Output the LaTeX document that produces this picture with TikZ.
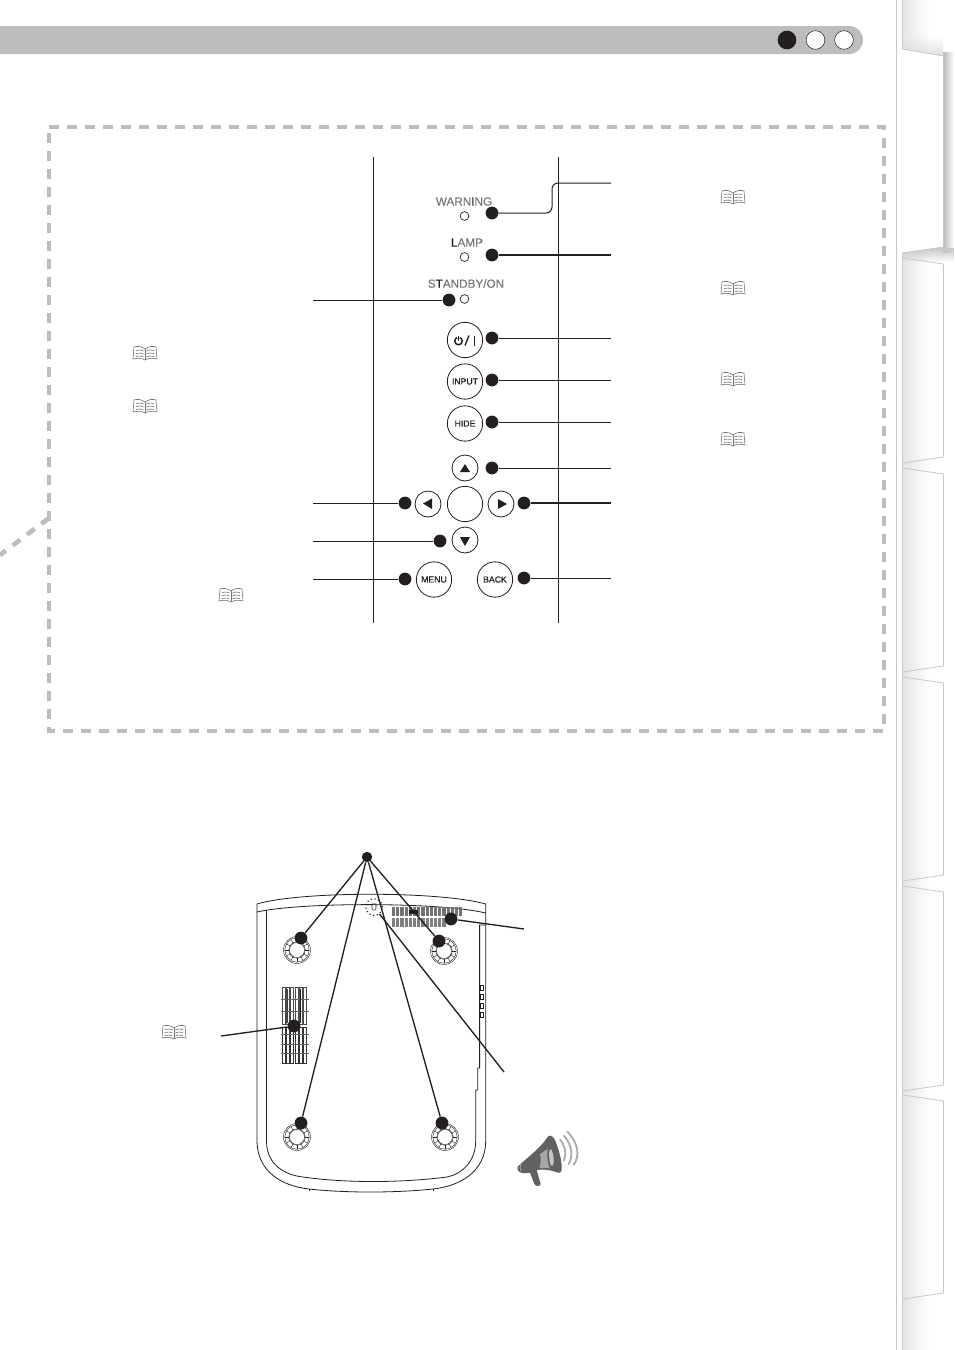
\documentclass[tikz,border=0pt]{standalone}
\usepackage{fontspec}
\usetikzlibrary{fadings}
\setmainfont{Liberation Sans}
\newfontfamily\btnfont[FakeBold=0.6]{Liberation Sans}
\newfontfamily\lblfont[FakeBold=0.3]{Liberation Sans}
\definecolor{barg}{HTML}{BDBDBD}
\definecolor{txtg}{HTML}{777777}
\definecolor{ink}{HTML}{231F20}
\definecolor{tabl}{HTML}{C8C8C8}
\tikzset{
  dot/.style={circle,fill=ink,draw=none,inner sep=0pt,minimum size=9.6pt},
  hubdot/.style={circle,fill=ink,draw=none,inner sep=0pt,minimum size=7.8pt},
  led/.style={circle,draw=ink,fill=white,line width=.5pt,inner sep=0pt,minimum size=6.6pt},
  bigbtn/.style={circle,draw=ink,fill=white,line width=.6pt,inner sep=0pt,minimum size=26.5pt,font=\btnfont\fontsize{6.5pt}{7pt}\selectfont,text=ink},
  smallbtn/.style={circle,draw=ink,fill=white,line width=.6pt,inner sep=0pt,minimum size=19.5pt},
  lbl/.style={inner sep=0pt,text=txtg,font=\lblfont\fontsize{8.8pt}{10pt}\selectfont},
  conn/.style={draw=ink,line width=.75pt},
  connb/.style={draw=ink,line width=1.2pt},
  lead/.style={draw=ink,line width=1pt},
  dbox/.style={draw=barg,line width=3.5pt,dash pattern=on 7.2pt off 6.3pt},
  tabedge/.style={draw=tabl,line width=.6pt},
  arrowfill/.style={fill=ink,draw=none},
  body/.style={draw=ink,line width=.6pt},
}
\newcommand{\bookicon}[2]{%
 \begin{scope}[shift={(#1,#2)},draw=black!55,line width=.45pt]
  \draw[fill=white] (0,-4) .. controls (-4,-7) and (-8,-7) .. (-11,-6) -- (-12,6) .. controls (-8,5) and (-3,5) .. (0,7)
        .. controls (3,5) and (8,5) .. (12,6) -- (11,-6) .. controls (8,-7) and (4,-7) .. (0,-4) -- cycle;
  \draw (0,-4) -- (0,7);
  \foreach \d in {-2,1,4}{
   \draw (-9,\d-.5) .. controls (-6,\d-1.5) and (-3,\d-1) .. (-1.5,\d);
   \draw (9,\d-.5) .. controls (6,\d-1.5) and (3,\d-1) .. (1.5,\d);}
 \end{scope}}
\newcommand{\footring}[3]{%
 \begin{scope}[shift={(#1,#2)},draw=ink,line width=.3pt]
  \draw circle (#3); \draw circle (#3-1.3); \draw circle (#3-5.3); \draw circle (#3-6);
  \foreach \a in {0,30,...,330}{\draw (\a:#3-5.3) -- (\a:#3-1.3);}
 \end{scope}}
\begin{document}
\begin{tikzpicture}[x=.75pt,y=-.75pt]
\path[fill=white,use as bounding box] (0,0) rectangle (954,1350);
% side tabs
\shade[left color=black!10,right color=white] (903,0) rectangle (930,1350);
\shade[left color=black!28,right color=white] (943,52) rectangle (954,252);
\fill[black!12,path fading=north] (903,36) rectangle (943,56);
\fill[black!22,path fading=south] (903,248) rectangle (954,262);
\draw[draw=tabl,line width=.6pt] (896.5,0) -- (896.5,1350);
\draw[draw=tabl,line width=1.2pt] (902.5,0) -- (902.5,49) (902.5,253) -- (902.5,1350);
\fill[white] (902,49) -- (943.5,56) -- (943.5,247) -- (902,253) -- cycle;
\draw[tabedge] (902,49) -- (943.5,56) -- (943.5,247) -- (902,253);
\foreach \t/\b in {258/457,468/666,677/875,886/1085,1095/1293}{
 \draw[tabedge] (903,\t) -- (943.5,\t+6) -- (943.5,\b) -- (903,\b+6);
}
% header
\fill[barg] (0,26) -- (849,26) .. controls (857,26) and (863,32) .. (863,40) .. controls (863,48) and (857,54) .. (849,54) -- (0,54) -- cycle;
\node[circle,fill=ink,inner sep=0pt,minimum size=14pt] (h1) at (787,40) {};
\node[circle,fill=white,draw=ink,line width=.4pt,inner sep=0pt,minimum size=14pt] (h2) at (815.5,40) {};
\node[circle,fill=white,draw=ink,line width=.4pt,inner sep=0pt,minimum size=14pt] (h3) at (844,40) {};
% dashed box
\draw[dbox] (49,127) -- (884,127) -- (884,731) -- (49,731) -- cycle;
\draw[dbox] (49,518) -- (0,555);
% column rules
\draw[draw=ink,line width=.75pt] (373.5,157) -- (373.5,623) (558.5,157) -- (558.5,623);
% labels + leds
\node[lbl] (tW) at (464,201.5) {WARN\textcolor{ink}{I}NG};
\node[lbl] (tL) at (467,242.5) {\textcolor{ink}{L}AMP};
\node[lbl] (tS) at (466,283.5) {S\textcolor{ink}{T}ANDBY/ON};
\node[led] (lW) at (464.5,216) {};
\node[led] (lL) at (464.5,257) {};
\node[led] (lS) at (464.5,299) {};
% buttons
\node[bigbtn] (bP) at (465,340) {};
\node[bigbtn] (bI) at (465,381.5) {INPUT};
\node[bigbtn] (bH) at (465,423.5) {HIDE};
\node[smallbtn] (bU) at (465,468) {};
\node[smallbtn] (bL) at (428,504) {};
\node[bigbtn] (bC) at (465,504) {};
\node[smallbtn] (bR) at (501,504) {};
\node[smallbtn] (bD) at (465,540) {};
\node[bigbtn] (bM) at (434,579.5) {MENU};
\node[bigbtn] (bB) at (495,579.5) {BACK};
% power glyph
\draw[draw=ink,line width=1.1pt] (458.5,341) circle (3.8);
\draw[draw=white,line width=1.8pt] (458.5,335) -- (458.5,338);
\draw[draw=ink,line width=1pt] (458.5,335.5) -- (458.5,341);
\draw[draw=ink,line width=1pt] (465,345.5) -- (469,335.5);
\draw[draw=ink,line width=1pt] (474.3,335.5) -- (474.3,345.5);
% arrows
\fill[arrowfill] (465,464) -- (470,472) -- (460,472) -- cycle;
\fill[arrowfill] (423,503.5) -- (432,498.5) -- (432,509) -- cycle;
\fill[arrowfill] (507,504) -- (498,499) -- (498,509) -- cycle;
\fill[arrowfill] (465,546) -- (460,537) -- (470,537) -- cycle;
% dots
\node[dot] (dW) at (492,213) {};
\node[dot] (dLa) at (492,255) {};
\node[dot] (dS) at (449,300) {};
\node[dot] (dP) at (492,338) {};
\node[dot] (dI) at (492,380) {};
\node[dot] (dH) at (492,422) {};
\node[dot] (dU) at (492,468) {};
\node[dot] (dLe) at (405,503) {};
\node[dot] (dR) at (524,503) {};
\node[dot] (dD) at (440,541) {};
\node[dot] (dM) at (405,579) {};
\node[dot] (dB) at (524,578) {};
% connector ends
\coordinate (eW) at (611,183);
\coordinate (eLa) at (611,255);
\coordinate (eS) at (313,300);
\coordinate (eP) at (611,338);
\coordinate (eI) at (611,380);
\coordinate (eH) at (611,422);
\coordinate (eU) at (611,468);
\coordinate (eLe) at (313,503);
\coordinate (eR) at (611,503);
\coordinate (eD) at (313,541);
\coordinate (eM) at (313,579);
\coordinate (eB) at (611,578);
\draw[conn,rounded corners=4.5pt] (dW) -- (552,213) -- (552,183) -- (eW);
\draw[connb] (dLa) -- (eLa);
\draw[conn] (dS) -- (eS);
\draw[conn] (dP) -- (eP);
\draw[conn] (dI) -- (eI);
\draw[conn] (dH) -- (eH);
\draw[conn] (dU) -- (eU);
\draw[conn] (dLe) -- (eLe);
\draw[connb,line width=1pt] (dR) -- (eR);
\draw[conn] (dD) -- (eD);
\draw[conn] (dM) -- (eM);
\draw[conn] (dB) -- (eB);
% books
\bookicon{733}{197}
\bookicon{733}{288}
\bookicon{733}{379}
\bookicon{733}{439}
\bookicon{145}{353}
\bookicon{145}{406}
\bookicon{231}{595}
\bookicon{174}{1032}
% projector body
\draw[body] (257,912) -- (257,1142) .. controls (258,1172) and (282,1186) .. (309,1189)
   .. controls (345,1193) and (395,1193) .. (433,1189) .. controls (460,1186) and (485,1172) .. (485.7,1142) -- (485.7,913);
\draw[body] (257,912) .. controls (300,902) and (440,902) .. (485.7,913);
\draw[body] (257,912) -- (257,904) .. controls (300,891) and (440,891) .. (485.7,904) -- (485.7,913);
\draw[body] (266.5,910) -- (266.5,1142) .. controls (267,1165) and (285,1175) .. (303,1177)
   .. controls (345,1183) and (400,1183) .. (447,1177) .. controls (462,1174) and (475,1162) .. (475.7,1142) -- (475.7,1090) -- (477.7,1090) -- (477.7,1068) -- (479.6,1068) -- (479.6,925) -- (485.7,925);
\draw[body] (309,1189) -- (309,1191) (433,1189) -- (433,1191);
% side clips
\foreach \y in {985,994,1003,1012}{\draw[draw=ink,line width=.45pt] (480,\y) rectangle (483,\y+5.5);}
% dotted screw
\node[circle,draw=ink,dotted,line width=.85pt,inner sep=0pt,minimum size=12.5pt] (screw) at (374,907) {};
\draw[draw=ink,line width=.4pt] (372,904) -- (372,908) .. controls (372,911) and (376,911) .. (376,908) -- (376,904) -- cycle;
% top vent
\foreach \x in {392,396.2,...,461}{\fill[black!55] (\x,907) rectangle (\x+3.2,916);}
\foreach \x in {392,396.2,...,446}{\fill[black!50] (\x,917.5) rectangle (\x+3.2,927);}
\fill[ink] (409,910) rectangle (418,914);
% intake vent
\foreach \x in {282,286.3,...,306}{
 \draw[draw=black!70,line width=.45pt] (\x,987) rectangle (\x+3,1024);
 \draw[draw=black!80,line width=.45pt] (\x,1027) rectangle (\x+3,1063);
}
\foreach \y in {999,1011,1034,1044,1053}{\draw[draw=black!60,line width=.4pt] (281,\y) -- (309,\y);}
\fill[black!75] (286.8,989) rectangle (288.2,1023);
\fill[ink] (299.5,989) rectangle (301,1023);
% feet
\footring{297}{950}{13.5}
\footring{444}{951}{13.5}
\footring{297}{1137}{13.5}
\footring{445}{1137}{13.5}
% leader lines
\node[hubdot] (hub) at (367,857) {};
\node[dot] (f1) at (301,938) {};
\node[dot] (f2) at (439,941) {};
\node[dot] (f3) at (301,1123) {};
\node[dot] (f4) at (442,1123) {};
\node[dot] (vT) at (451,919) {};
\node[dot] (vI) at (294,1026) {};
\coordinate (evT) at (524,929);
\coordinate (evI) at (221,1036);
\coordinate (eSc) at (504,1072);
\draw[lead] (hub) -- (f1);
\draw[lead] (hub) -- (f2);
\draw[lead] (hub) -- (f3);
\draw[lead] (hub) -- (f4);
\draw[lead] (vT) -- (evT);
\draw[lead] (vI) -- (evI);
\draw[lead] (screw) -- (eSc);
% megaphone
\begin{scope}[shift={(505,1120)},x=.25pt,y=-.25pt]
 \fill[black!62] (38,140) .. controls (70,110) and (105,85) .. (125,55) .. controls (132,42) and (142,45) .. (150,60)
   .. controls (162,90) and (172,125) .. (170,150) .. controls (168,160) and (160,160) .. (150,155)
   .. controls (130,148) and (110,148) .. (95,150) -- (107,192) .. controls (105,200) and (92,200) .. (88,192)
   -- (75,158) .. controls (60,160) and (45,162) .. (38,150) -- cycle;
 \fill[black!35] (105,103) -- (128,86) .. controls (125,110) and (128,130) .. (134,145) .. controls (122,143) and (110,143) .. (103,145) .. controls (108,130) and (108,115) .. (105,103) -- cycle;
 \fill[black!22] (133,112) .. controls (130,90) and (136,85) .. (140,90) .. controls (147,105) and (148,130) .. (143,137) .. controls (138,140) and (134,130) .. (133,112) -- cycle;
 \draw[draw=black!30,line width=.5pt] (48,130) .. controls (44,138) and (44,148) .. (49,154);
 \draw[draw=black!32,line width=1.4pt] (165,58) .. controls (182,80) and (185,105) .. (176,123);
 \draw[draw=black!32,line width=1.4pt] (176,46) .. controls (202,75) and (205,110) .. (190,134);
 \draw[draw=black!32,line width=1.4pt] (186,34) .. controls (222,70) and (225,110) .. (205,136);
\end{scope}
\end{tikzpicture}
\end{document}
